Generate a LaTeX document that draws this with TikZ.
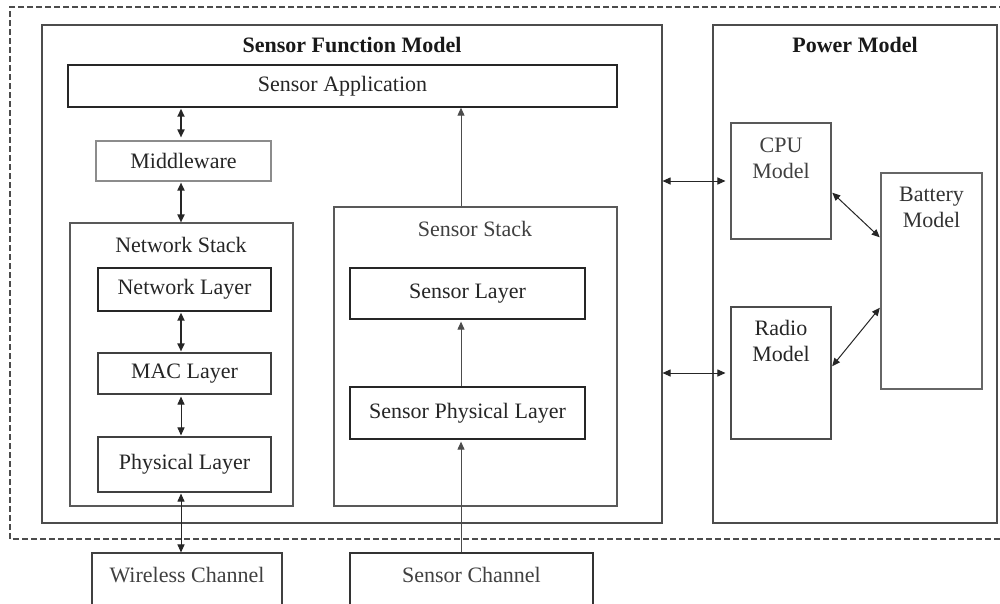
\documentclass[tikz,border=0pt]{standalone}
\usepackage{fontspec}
\setmainfont{Liberation Serif}
\usetikzlibrary{arrows.meta}
\begin{document}
\begin{tikzpicture}[x=1pt,y=-1pt,
  lbl/.style={font=\fontsize{22}{26}\selectfont, text=black!85, inner sep=0pt, align=center},
  ttl/.style={font=\fontsize{22}{26}\selectfont\bfseries, text=black!90, inner sep=0pt},
  boxx/.style={draw=#1, line width=1.1pt, inner sep=0pt, font=\fontsize{22}{26}\selectfont, text=black!85},
  boxx/.default={black!70},
  twoway/.style={{Triangle[length=8pt,width=7pt]}-{Triangle[length=8pt,width=7pt]}, draw=black!85},
  oneway/.style={-{Triangle[length=8pt,width=7pt]}, draw=black!70, line width=1pt}
]
\useasboundingbox (0,0) rectangle (1000,603);
\clip (0,0) rectangle (1000,603);
\fill[white] (0,0) rectangle (1000,603);
% outer dashed frame
\draw[black!70, line width=1.1pt, dash pattern=on 6pt off 3pt] (1005,7) -- (10,7) -- (10,539) -- (1005,539);

% main frames
\node[boxx=black!70, minimum width=620pt, minimum height=498pt] (sfm) at (352,274) {};
\node[boxx=black!70, minimum width=284pt, minimum height=498pt] (pm) at (855,274) {};
\node[ttl] (sfmt) at (352,45) {Sensor Function Model};
\node[ttl] (pmt) at (855,45) {Power Model};

% sensor function model content
\node[boxx=black!85, line width=1.4pt, minimum width=549pt, minimum height=42pt] (app) at (342.5,86) {Sensor Application};
\node[boxx=black!45, minimum width=175pt, minimum height=40pt] (mid) at (183.5,161) {Middleware};

\node[boxx=black!65, minimum width=223pt, minimum height=283pt] (ns) at (181.5,364.5) {};
\node[lbl] (nst) at (181,245) {Network Stack};
\node[boxx=black!85, line width=1.3pt, minimum width=173pt, minimum height=43pt] (nl) at (184.5,289.5) {Network Layer};
\node[boxx=black!75, minimum width=173pt, minimum height=41pt] (mac) at (184.5,373.5) {MAC Layer};
\node[boxx=black!75, minimum width=173pt, minimum height=55pt] (phy) at (184.5,464.5) {\raisebox{3pt}{Physical Layer}};

\node[boxx=black!65, minimum width=283pt, minimum height=299pt] (ss) at (475.5,356.5) {};
\node[lbl, text=black!75] (sst) at (475,229) {Sensor Stack};
\node[boxx=black!85, line width=1.3pt, minimum width=235pt, minimum height=51pt] (sl) at (467.5,293.5) {Sensor Layer};
\node[boxx=black!85, line width=1.3pt, minimum width=235pt, minimum height=52pt] (spl) at (467.5,413) {\raisebox{4pt}{Sensor Physical Layer}};

% channels
\node[boxx=black!75, minimum width=190pt, minimum height=87pt] (wc) at (187,596.5) {};
\node[lbl, text=black!75] (wct) at (187,575) {Wireless Channel};
\node[boxx=black!80, minimum width=243pt, minimum height=87pt] (sc) at (471.5,596.5) {};
\node[lbl, text=black!75] (sct) at (471.5,575) {Sensor Channel};

% power model content
\node[boxx=black!65, minimum width=100pt, minimum height=116pt] (cpu) at (781,181) {};
\node[lbl, text=black!75] (cput) at (781,158) {CPU\\Model};
\node[boxx=black!60, minimum width=101pt, minimum height=216pt] (bat) at (931.5,281) {};
\node[lbl, text=black!80] (batt) at (931.5,207) {Battery\\Model};
\node[boxx=black!70, minimum width=100pt, minimum height=132pt] (rad) at (781,373) {};
\node[lbl] (radt) at (781,340.5) {Radio\\Model};

% helper x positions
\coordinate (nx) at (181,0);
\coordinate (sx) at (461,0);

% network stack arrows
\draw[twoway, line width=1.7pt, shorten >=3pt, shorten <=1pt] (nx |- app.south) -- (nx |- mid.north);
\draw[twoway, line width=1.7pt, shorten <=1pt] (nx |- mid.south) -- (nx |- ns.north);
\draw[twoway, line width=1.7pt, shorten <=1pt, shorten >=1pt] (nx |- nl.south) -- (nx |- mac.north);
\draw[twoway, line width=1pt, shorten <=2pt, shorten >=1pt] (nx |- mac.south) -- (nx |- phy.north);
\draw[twoway, line width=1pt, shorten <=1pt] (nx |- phy.south) -- (nx |- wc.north);

% sensor stack arrows
\draw[oneway] (sx |- ss.north) -- (sx |- app.south);
\draw[oneway, shorten >=2pt] (sx |- spl.north) -- (sx |- sl.south);
\draw[oneway, shorten >=2pt] (sx |- sc.north) -- (sx |- spl.south);

% power arrows
\draw[twoway, line width=1pt, shorten >=5pt] (sfm.east |- cpu.west) -- (cpu.west);
\draw[twoway, line width=1pt, shorten >=5pt] (sfm.east |- rad.west) -- (rad.west);
\draw[twoway, line width=1pt, shorten <=1pt, shorten >=1pt] ([yshift=-11pt]cpu.east) -- ([yshift=43pt]bat.west);
\draw[twoway, line width=1pt, shorten <=1pt, shorten >=1pt] ([yshift=6pt]rad.east) -- ([yshift=-26pt]bat.west);
\end{tikzpicture}
\end{document}
